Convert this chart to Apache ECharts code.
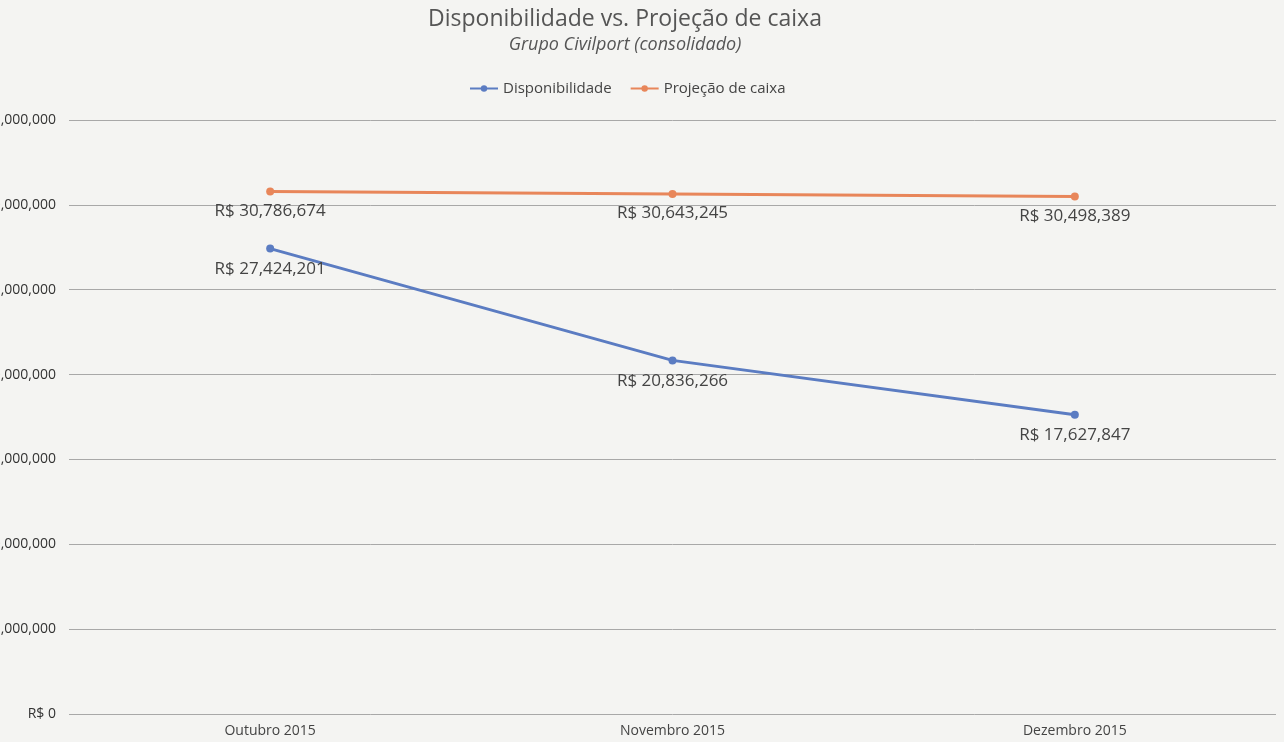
<!DOCTYPE html>
<html>
<head>
<meta charset="utf-8">
<script src="https://cdn.jsdelivr.net/npm/echarts@6/dist/echarts.min.js"></script>
<style>
  html, body { margin: 0; padding: 0; background: #f4f4f2; }
  #chart { width: 1284px; height: 742px; }
</style>
</head>
<body>
<div id="chart"></div>
<script>
const months = ["Outubro 2015", "Novembro 2015", "Dezembro 2015"];
const disponibilidade = [27424201, 20836266, 17627847];
const projecao = [30786674, 30643245, 30498389];

const brl = (v) => "R$ " + Math.round(v).toLocaleString("en-US");

const chart = echarts.init(document.getElementById("chart"));

chart.setOption({
  backgroundColor: "#f4f4f2",
  textStyle: { fontFamily: "'Open Sans', sans-serif" },
  title: {
    text: "Disponibilidade vs. Projeção de caixa",
    subtext: "Grupo Civilport (consolidado)",
    left: 620,
    textAlign: "center",
    top: 3,
    itemGap: 5,
    textStyle: { fontSize: 23, fontWeight: "normal", color: "#555" },
    subtextStyle: { fontSize: 18, fontStyle: "italic", color: "#555" }
  },
  legend: {
    top: 76,
    left: 464,
    itemWidth: 28,
    itemHeight: 8,
    itemGap: 18,
    textStyle: { fontSize: 15, color: "#444" },
    data: ["Disponibilidade", "Projeção de caixa"]
  },
  grid: { left: 69, right: 8, top: 120, bottom: 28, outerBoundsMode: "none" },
  xAxis: {
    type: "category",
    data: months,
    axisLine: { show: false },
    axisTick: { show: false },
    axisLabel: { fontSize: 14, color: "#444", margin: 10 }
  },
  yAxis: {
    type: "value",
    min: 0,
    max: 35000000,
    interval: 5000000,
    axisLine: { show: false },
    axisTick: { show: false },
    axisLabel: { fontSize: 14, color: "#333", margin: 13, formatter: brl },
    splitLine: { lineStyle: { color: "#a8a8a8", width: 1 } }
  },
  series: [
    {
      name: "Disponibilidade",
      type: "line",
      data: disponibilidade,
      color: "#5b7cc2",
      symbol: "circle",
      symbolSize: 8,
      lineStyle: { width: 3 },
      label: {
        show: true,
        position: "bottom",
        distance: 8,
        fontSize: 17,
        color: "#444",
        formatter: (p) => brl(p.value)
      }
    },
    {
      name: "Projeção de caixa",
      type: "line",
      data: projecao,
      color: "#e8865a",
      symbol: "circle",
      symbolSize: 8,
      lineStyle: { width: 3 },
      label: {
        show: true,
        position: "bottom",
        distance: 7,
        fontSize: 17,
        color: "#444",
        formatter: (p) => brl(p.value)
      }
    }
  ]
});
</script>
</body>
</html>
